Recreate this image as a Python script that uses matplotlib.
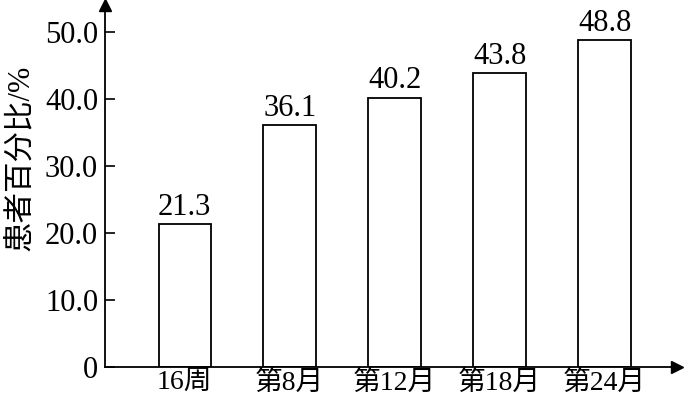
import numpy as np
import matplotlib
matplotlib.use("Agg")
import matplotlib.pyplot as plt

plt.rcParams['font.family'] = ['Liberation Serif', 'Noto Sans CJK SC', 'DejaVu Sans']

# data
categories = ['16周', '第8月', '第12月', '第18月', '第24月']
values = [21.3, 36.1, 40.2, 43.8, 48.8]
yticks = [0, 10, 20, 30, 40, 50]
ytick_labels = ['0', '10.0', '20.0', '30.0', '40.0', '50.0']

fig = plt.figure(figsize=(6.93, 4.01), dpi=100)
ax = fig.add_axes([105 / 693, 34 / 401, 572 / 693, 362 / 401])

x = np.arange(len(categories))
ax.bar(x, values, width=0.5, color='white', edgecolor='black', linewidth=1.3)
for xi, v in zip(x, values):
    ax.text(xi, v + 0.3, f'{v:.1f}', ha='center', va='bottom', fontsize=22)

ax.set_xlim(-0.76, 4.69)
ax.set_ylim(0, 54)
ax.set_xticks(x)
ax.set_xticklabels(categories, fontsize=20)
ax.set_yticks(yticks)
ax.set_yticklabels(ytick_labels, fontsize=22)
ax.tick_params(axis='x', length=0, pad=2)
ax.tick_params(axis='y', direction='in', length=7, width=1.2, pad=5)

for s in ['top', 'right']:
    ax.spines[s].set_visible(False)
for s in ['left', 'bottom']:
    ax.spines[s].set_linewidth(1.3)

# axis arrows
ax.plot(1, 0, '>k', markersize=9, transform=ax.transAxes, clip_on=False)
ax.plot(0, 1, '^k', markersize=9, transform=ax.transAxes, clip_on=False)

fig.text(20 / 693, 1 - 158 / 401, '患者百分比/%', rotation=90,
         ha='center', va='center', fontsize=22)

fig.savefig('out.png', dpi=100)
